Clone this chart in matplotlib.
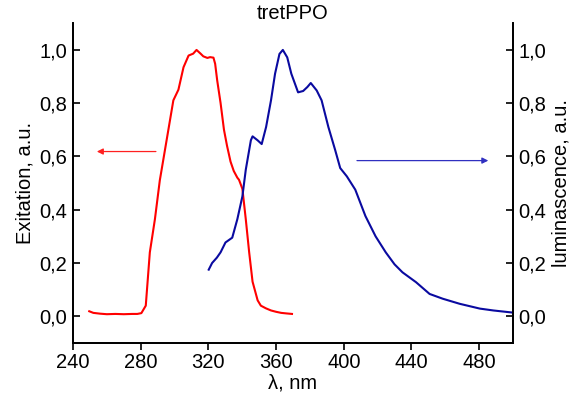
import matplotlib
matplotlib.use("Agg")
import matplotlib.pyplot as plt

plt.rcParams['font.family'] = ['Liberation Sans', 'DejaVu Sans']

# excitation spectrum (left axis)
exc_wl = [249.6, 252, 256, 260, 265, 270, 275, 278, 280.4, 283, 285.4, 288.4, 291.3,
          295.3, 299.3, 302.3, 305.3, 308.3, 311, 313, 315.4, 317, 319.4, 321, 323,
          324, 325.2, 327.2, 329.2, 331, 333.1, 335, 337.1, 338.1, 340.1, 342.1,
          344.1, 346.1, 349.1, 351, 354, 357, 360, 363, 366, 369.4]
exc = [0.019, 0.013, 0.010, 0.008, 0.009, 0.008, 0.009, 0.009, 0.012, 0.04, 0.24,
       0.364, 0.51, 0.66, 0.81, 0.85, 0.934, 0.978, 0.985, 0.999, 0.985, 0.975,
       0.969, 0.972, 0.97, 0.947, 0.885, 0.80, 0.70, 0.64, 0.58, 0.545, 0.52,
       0.512, 0.478, 0.364, 0.24, 0.13, 0.06, 0.04, 0.03, 0.022, 0.017, 0.013,
       0.011, 0.009]

# luminescence spectrum (right axis)
lum_wl = [320.2, 322.2, 325, 327.2, 330.1, 334.1, 337.1, 340.1, 342.1, 345.1, 346.1,
          349.1, 351.5, 354.1, 357, 359.4, 362, 364, 366.6, 369, 373, 376, 378.5,
          380.5, 384, 386.9, 390.9, 394.9, 397.9, 401.8, 406.8, 412.8, 418.8,
          424.8, 430, 434.7, 442.7, 450.7, 458.5, 468.5, 480.4, 488.4, 499.9]
lum = [0.175, 0.20, 0.22, 0.24, 0.277, 0.295, 0.364, 0.45, 0.55, 0.66, 0.675, 0.66,
       0.646, 0.71, 0.81, 0.91, 0.984, 0.999, 0.971, 0.91, 0.84, 0.845, 0.86,
       0.875, 0.847, 0.81, 0.71, 0.624, 0.556, 0.525, 0.475, 0.376, 0.30, 0.24,
       0.195, 0.165, 0.128, 0.084, 0.066, 0.047, 0.029, 0.022, 0.014]

xticks = [240, 280, 320, 360, 400, 440, 480]
yticks = [0.0, 0.2, 0.4, 0.6, 0.8, 1.0]
ylabels = ['0,0', '0,2', '0,4', '0,6', '0,8', '1,0']

fs = 14.5

fig = plt.figure(figsize=(5.72, 4.01), dpi=100)
ax = fig.add_axes([73 / 572, 58 / 401, 440 / 572, 320 / 401])
ax2 = ax.twinx()

ax.plot(exc_wl, exc, color='#ff0000', lw=1.5)
ax2.plot(lum_wl, lum, color='#0a0aa0', lw=1.5)

ax.set_xlim(240, 500)
ax.set_ylim(-0.1, 1.1)
ax2.set_ylim(-0.1, 1.1)

ax.set_xticks(xticks)
ax.set_xticklabels([str(t) for t in xticks])
ax.set_yticks(yticks)
ax.set_yticklabels(ylabels)
ax2.set_yticks(yticks)
ax2.set_yticklabels(ylabels)

ax.tick_params(axis='x', direction='out', length=5, width=1.2, labelsize=fs, pad=2)
ax.tick_params(axis='y', direction='in', length=5, width=1.2, labelsize=fs, pad=4)
ax2.tick_params(axis='y', direction='in', length=5, width=1.2, labelsize=fs, pad=4)

for a in (ax, ax2):
    a.spines['top'].set_visible(False)
    for s in ('left', 'right', 'bottom'):
        a.spines[s].set_linewidth(1.3)

ax.set_xlabel('\u03bb, nm', fontsize=fs, labelpad=1)
ax.set_ylabel('Exitation, a.u.', fontsize=fs, labelpad=4)
ax2.set_ylabel('luminascence, a.u.', fontsize=fs, labelpad=4)
ax.set_title('tretPPO', fontsize=fs, pad=3)

# direction arrows
ax.annotate('', xy=(254.1, 0.618), xytext=(289, 0.618),
            arrowprops=dict(arrowstyle='-|>', color='#ff2020', lw=0.9,
                            mutation_scale=9, shrinkA=0, shrinkB=0))
ax2.annotate('', xy=(485.4, 0.584), xytext=(407.8, 0.584),
             arrowprops=dict(arrowstyle='-|>', color='#3030c0', lw=0.9,
                             mutation_scale=9, shrinkA=0, shrinkB=0))

fig.savefig('out.png', dpi=100)
